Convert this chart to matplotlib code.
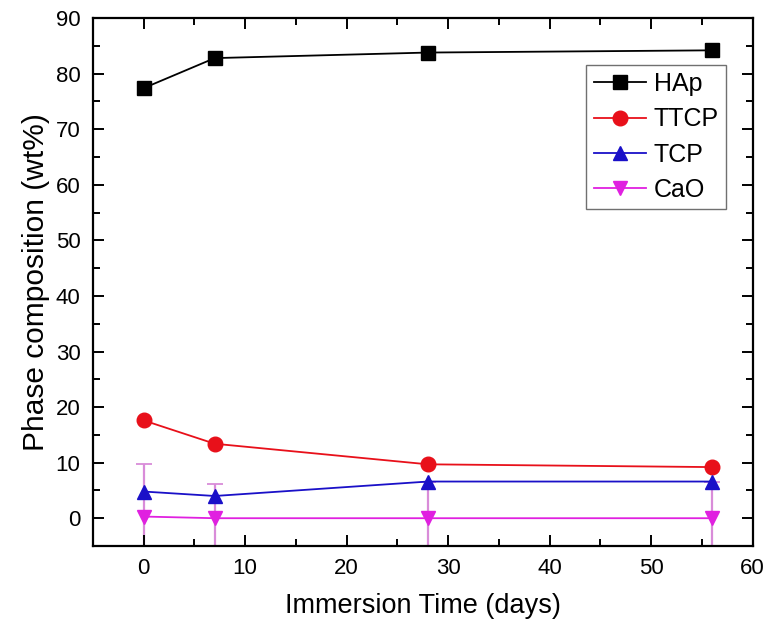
import matplotlib
matplotlib.use("Agg")
import matplotlib.pyplot as plt
from matplotlib.ticker import MultipleLocator

plt.rcParams['font.family'] = ['Liberation Sans', 'DejaVu Sans']

days = [0, 7, 28, 56]
hap = [77.4, 82.8, 83.8, 84.2]
ttcp = [17.6, 13.4, 9.7, 9.2]
tcp = [4.8, 4.0, 6.6, 6.6]
cao = [0.3, 0.0, 0.0, 0.0]
cao_err = [9.4, 6.1, 6.5, 6.5]

fig = plt.figure(figsize=(7.68, 6.24), dpi=100)
ax = fig.add_axes([0.121, 0.125, 0.859, 0.846])

ms = 9.5
lw = 1.3
ax.errorbar(days, cao, yerr=cao_err, fmt='none', ecolor='#d98cd9',
            elinewidth=1.6, capsize=6, capthick=1.3, zorder=1)
ax.plot(days, hap, color='black', marker='s', ms=ms, lw=lw, label='HAp', zorder=3)
ax.plot(days, ttcp, color='#e8101a', marker='o', ms=ms + 1, lw=lw, label='TTCP', zorder=3)
ax.plot(days, tcp, color='#1a10c8', marker='^', ms=ms + 1, lw=lw, label='TCP', zorder=3)
ax.plot(days, cao, color='#e020e0', marker='v', ms=ms + 1, lw=lw, label='CaO', zorder=3)

ax.set_xlim(-5, 60)
ax.set_ylim(-5, 90)
ax.xaxis.set_major_locator(MultipleLocator(10))
ax.xaxis.set_minor_locator(MultipleLocator(5))
ax.yaxis.set_major_locator(MultipleLocator(10))
ax.yaxis.set_minor_locator(MultipleLocator(5))
ax.tick_params(which='both', direction='in', top=True, right=True, width=1.4)
ax.tick_params(which='major', length=8, labelsize=16, pad=9)
ax.tick_params(which='minor', length=5)
for s in ax.spines.values():
    s.set_linewidth(1.6)

ax.set_xlabel('Immersion Time (days)', fontsize=19.5, labelpad=10)
ax.set_ylabel('Phase composition (wt%)', fontsize=21.5, labelpad=4)

leg = ax.legend(loc='upper right', bbox_to_anchor=(0.96, 0.912), fontsize=18,
                fancybox=False, edgecolor='#707070', framealpha=1,
                handlelength=2.1, handletextpad=0.3, borderpad=0.3,
                labelspacing=0.45, borderaxespad=0)
leg.get_frame().set_linewidth(1.0)

fig.savefig('out.png', dpi=100)
